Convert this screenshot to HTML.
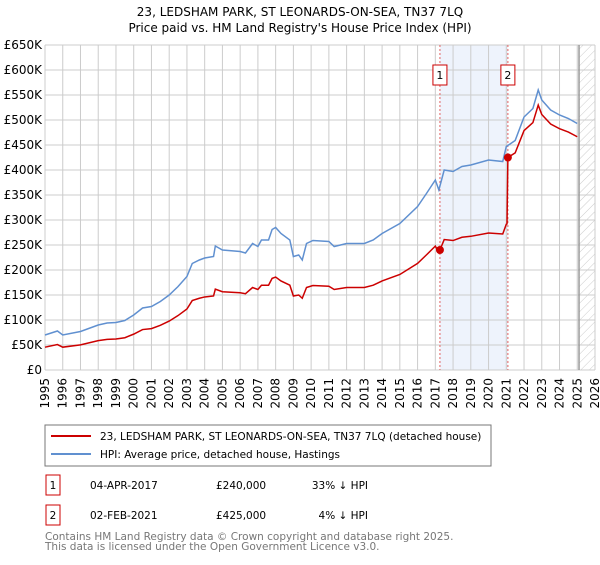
<!DOCTYPE html>
<html><head><meta charset="utf-8"><style>
body{margin:0;background:#fff;font-family:"Liberation Sans","DejaVu Sans",sans-serif;}
svg text{font-family:"DejaVu Sans","Liberation Sans",sans-serif;}
</style></head><body>
<svg id="chart" width="600" height="560">
<defs><pattern id="hatch" width="6" height="6" patternUnits="userSpaceOnUse" patternTransform="rotate(45)"><line x1="0" y1="0" x2="0" y2="6" stroke="#ccc" stroke-width="1"/></pattern></defs>
<text x="300" y="16" text-anchor="middle" font-size="12">23, LEDSHAM PARK, ST LEONARDS-ON-SEA, TN37 7LQ</text>
<text x="300" y="32" text-anchor="middle" font-size="12">Price paid vs. HM Land Registry's House Price Index (HPI)</text>
<g id="grid"></g><g id="series"></g><g id="axes"></g>
<rect x="45" y="425" width="446" height="41" fill="#fff" stroke="#777"/>
<line x1="51" y1="436" x2="91" y2="436" stroke="#cc0000" stroke-width="2"/>
<text x="100" y="440" font-size="10.5">23, LEDSHAM PARK, ST LEONARDS-ON-SEA, TN37 7LQ (detached house)</text>
<line x1="51" y1="454" x2="91" y2="454" stroke="#6090d0" stroke-width="2"/>
<text x="100" y="458" font-size="10.5">HPI: Average price, detached house, Hastings</text>
<rect x="46" y="475" width="14" height="20" fill="#fff" stroke="#cc0000"/>
<text x="53" y="489" text-anchor="middle" font-size="10.5">1</text>
<text x="90" y="489" font-size="10.5">04-APR-2017</text>
<text x="216" y="489" font-size="10.5">£240,000</text>
<text x="368" y="489" text-anchor="end" font-size="10.5">33% ↓ HPI</text>
<rect x="46" y="505" width="14" height="20" fill="#fff" stroke="#cc0000"/>
<text x="53" y="519" text-anchor="middle" font-size="10.5">2</text>
<text x="90" y="519" font-size="10.5">02-FEB-2021</text>
<text x="216" y="519" font-size="10.5">£425,000</text>
<text x="368" y="519" text-anchor="end" font-size="10.5">4% ↓ HPI</text>
<text x="45" y="540" font-size="10.5" fill="#777">Contains HM Land Registry data © Crown copyright and database right 2025.</text>
<text x="45" y="550" font-size="10.5" fill="#777">This data is licensed under the Open Government Licence v3.0.</text>
</svg>
<script>
const yTicks=[0,50,100,150,200,250,300,350,400,450,500,550,600,650];
const yTickLabels=["£0","£50K","£100K","£150K","£200K","£250K","£300K","£350K","£400K","£450K","£500K","£550K","£600K","£650K"];
const xYears=[1995,1996,1997,1998,1999,2000,2001,2002,2003,2004,2005,2006,2007,2008,2009,2010,2011,2012,2013,2014,2015,2016,2017,2018,2019,2020,2021,2022,2023,2024,2025,2026];
const hpiT=[1995.0,1995.7,1996.0,1997.0,1998.0,1998.5,1999.0,1999.5,2000.0,2000.5,2001.0,2001.5,2002.0,2002.5,2003.0,2003.3,2003.7,2004.0,2004.5,2004.6,2005.0,2006.0,2006.3,2006.7,2007.0,2007.2,2007.6,2007.8,2008.0,2008.3,2008.8,2009.0,2009.3,2009.5,2009.74,2010.1,2011.0,2011.3,2012.0,2013.0,2013.5,2014.0,2015.0,2016.0,2016.5,2017.0,2017.2,2017.5,2018.0,2018.5,2019.0,2020.0,2020.8,2021.0,2021.5,2022.0,2022.5,2022.8,2023.0,2023.5,2024.0,2024.5,2025.0];
const hpiV=[70,78,70,77,90,94,95,99,110,124,127,137,150,167,187,213,220,224,227,248,240,237,234,253,247,260,260,281,285,273,260,227,230,220,253,259,257,247,253,253,260,273,293,327,353,380,360,400,397,407,410,420,417,447,459,506,523,560,540,520,510,503,493];
const saleT=[2017.26,2021.09];
const saleV=[240,425];
const saleLabels=["1","2"];

const X0=45,X1=595,Y0=370,Y1=45;
const xs=y=>X0+(y-1995)*(X1-X0)/31;
const ys=v=>Y0-v*(Y0-Y1)/650;
const NS="http://www.w3.org/2000/svg";
function mk(tag,attrs,parent){const e=document.createElementNS(NS,tag);for(const k in attrs)e.setAttribute(k,attrs[k]);parent.appendChild(e);return e;}
const grid=document.getElementById('grid'),ser=document.getElementById('series'),ax=document.getElementById('axes');
let band=mk('rect',{x:xs(saleT[0]),y:Y1,width:xs(saleT[1])-xs(saleT[0]),height:Y0-Y1,fill:'#eef3fc'},grid);


let hat=mk('rect',{x:xs(2025.1),y:Y1,width:X1-xs(2025.1),height:Y0-Y1,fill:'url(#hatch)'},grid);


yTicks.forEach((v,i)=>{
 let l=mk('line',{x1:X0,x2:X1,y1:ys(v),y2:ys(v),stroke:'#ccc'},grid);
 
 
 let t=mk('text',{x:X0-3,y:ys(v)+4,'text-anchor':'end','font-size':12},ax);
 t.textContent=yTickLabels[i];
 
 
});
xYears.forEach(yr=>{
 let l=mk('line',{x1:xs(yr),x2:xs(yr),y1:Y1,y2:Y0,stroke:'#ccc'},grid);
 
 
 let t=mk('text',{x:0,y:0,'text-anchor':'end','font-size':12,transform:`translate(${xs(yr)+4},${Y0+8}) rotate(-90)`},ax);
 t.textContent=yr;
 
 
});
let dl=mk('line',{x1:xs(2025.1),x2:xs(2025.1),y1:Y1,y2:Y0,stroke:'#999','stroke-width':1.5},grid);


function hpiAt(t){for(let i=1;i<hpiT.length;i++){if(t<=hpiT[i]){const f=(t-hpiT[i-1])/(hpiT[i]-hpiT[i-1]);return hpiV[i-1]+f*(hpiV[i]-hpiV[i-1]);}}return hpiV[hpiV.length-1];}
const r1=saleV[0]/hpiAt(saleT[0]),r2=saleV[1]/hpiAt(saleT[1]);
let red=[];
hpiT.forEach((t,i)=>{if(t<saleT[1])red.push([t,hpiV[i]*r1]);});
red.push([saleT[1]-0.05,hpiAt(saleT[1]-0.05)*r1]);
red.push([saleT[1],saleV[1]]);
hpiT.forEach((t,i)=>{if(t>saleT[1])red.push([t,hpiV[i]*r2]);});
let hp=mk('polyline',{points:hpiT.map((t,i)=>xs(t)+','+ys(hpiV[i])).join(' '),fill:'none',stroke:'#6090d0','stroke-width':1.5},ser);


let rp=mk('polyline',{points:red.map(p=>xs(p[0])+','+ys(p[1])).join(' '),fill:'none',stroke:'#cc0000','stroke-width':1.5},ser);


saleT.forEach((t,i)=>{
 let v=mk('line',{x1:xs(t),x2:xs(t),y1:Y1,y2:Y0,stroke:'#e06060','stroke-dasharray':'2,2'},grid);
 
 
 let c=mk('circle',{cx:xs(t),cy:ys(saleV[i]),r:4,fill:'#cc0000'},ser);
 
 
 let b=mk('rect',{x:xs(t)-7,y:65,width:14,height:20,fill:'#fff',stroke:'#cc0000'},ax);
 
 
 let bt=mk('text',{x:xs(t),y:79,'text-anchor':'middle','font-size':11},ax);
 bt.textContent=saleLabels[i];
 
 
});
</script>
</body></html>
